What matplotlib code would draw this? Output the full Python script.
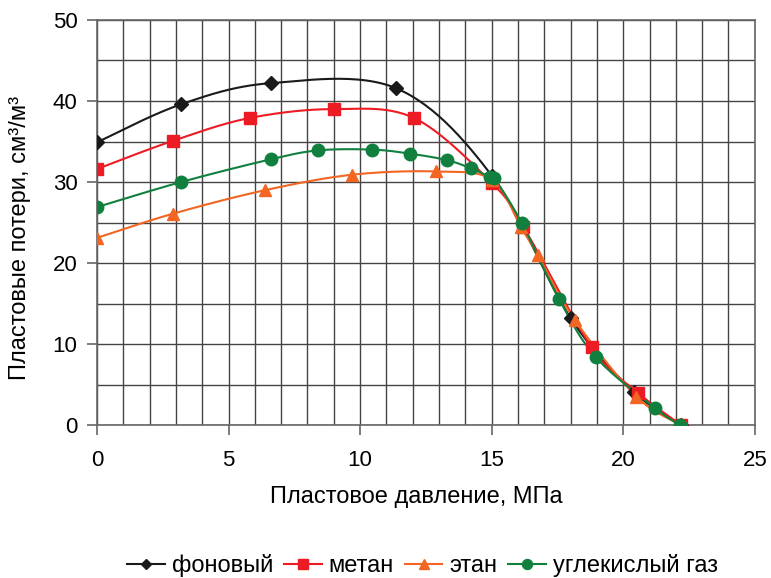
import numpy as np
import matplotlib.pyplot as plt
from matplotlib.ticker import MultipleLocator

plt.rcParams['font.family'] = ['Liberation Sans', 'DejaVu Sans']

# pressure, MPa / loss, cm3/m3
bg_x = [0.0, 3.2, 6.6, 11.35, 15.0, 18.0, 20.4, 22.2]
bg_y = [34.9, 39.6, 42.2, 41.6, 30.8, 13.2, 4.1, 0.0]

ch4_x = [0.0, 2.9, 5.8, 9.0, 12.05, 15.0, 16.2, 18.8, 20.55, 22.2]
ch4_y = [31.6, 35.1, 37.9, 39.0, 37.9, 29.9, 24.5, 9.6, 4.0, 0.0]

c2h6_x = [0.0, 2.9, 6.4, 9.7, 12.9, 15.0, 16.1, 16.75, 18.15, 20.5, 22.2]
c2h6_y = [23.1, 26.1, 29.0, 30.9, 31.3, 30.3, 24.5, 21.0, 13.0, 3.5, 0.0]

co2_x = [0.0, 3.2, 6.6, 8.4, 10.45, 11.9, 13.3, 14.2, 14.95, 15.1, 16.15, 17.55, 18.95, 21.2, 22.15]
co2_y = [26.9, 30.0, 32.8, 33.9, 34.0, 33.5, 32.7, 31.7, 30.6, 30.5, 24.9, 15.6, 8.4, 2.1, 0.0]


def smooth(xs, ys, n=30):
    # Catmull-Rom curve through the points, like Excel "smoothed line"
    p = np.column_stack([xs, ys]).astype(float)
    p = np.vstack([p[0], p, p[-1]])
    out = []
    t = np.linspace(0, 1, n)[:, None]
    for i in range(1, len(p) - 2):
        p0, p1, p2, p3 = p[i - 1], p[i], p[i + 1], p[i + 2]
        seg = 0.5 * ((2 * p1) + (-p0 + p2) * t + (2 * p0 - 5 * p1 + 4 * p2 - p3) * t ** 2
                     + (-p0 + 3 * p1 - 3 * p2 + p3) * t ** 3)
        out.append(seg)
    out = np.vstack(out)
    return out[:, 0], out[:, 1]


fig = plt.figure(figsize=(7.71, 5.78), dpi=100)
ax = fig.add_axes([0.1258, 0.2647, 0.8532, 0.7007])

series = [
    (bg_x, bg_y, "#1a1a1a", "D", 7, "фоновый"),
    (ch4_x, ch4_y, "#ed1c24", "s", 8.5, "метан"),
    (c2h6_x, c2h6_y, "#f26522", "^", 9, "этан"),
    (co2_x, co2_y, "#11803e", "o", 9, "углекислый газ"),
]
for xs, ys, col, mk, ms, lab in series:
    sx, sy = smooth(xs, ys)
    ax.plot(sx, sy, color=col, lw=1.5, zorder=3)
    ax.plot(xs, ys, ls="none", marker=mk, ms=ms, color=col, zorder=4)
    ax.plot([], [], color=col, lw=1.5, marker=mk, ms=ms * 0.8, label=lab)

ax.set_xlim(0, 25)
ax.set_ylim(0, 50)
ax.xaxis.set_major_locator(MultipleLocator(5))
ax.xaxis.set_minor_locator(MultipleLocator(1))
ax.yaxis.set_major_locator(MultipleLocator(10))
ax.yaxis.set_minor_locator(MultipleLocator(5))
ax.grid(which="both", color="#444444", lw=1.0)
ax.set_axisbelow(True)
for s in ax.spines.values():
    s.set_color("#666666")
    s.set_linewidth(1.2)
ax.tick_params(which="major", direction="out", length=7, width=1.2, color="#666666",
               labelsize=16)
ax.tick_params(axis="x", pad=11)
ax.tick_params(axis="y", pad=7)
ax.tick_params(which="minor", length=0)

ax.set_xlabel("Пластовое давление, МПа", fontsize=17)
ax.set_ylabel("Пластовые потери, см³/м³", fontsize=17)
ax.xaxis.set_label_coords(0.486, -0.15)
ax.yaxis.set_label_coords(-0.10, 0.463)

fig.legend(loc="center", bbox_to_anchor=(0.548, 0.022), ncol=4, frameon=False,
           fontsize=17, handlelength=1.6, handletextpad=0.3, columnspacing=0.45)

fig.savefig("out.png", dpi=100)
